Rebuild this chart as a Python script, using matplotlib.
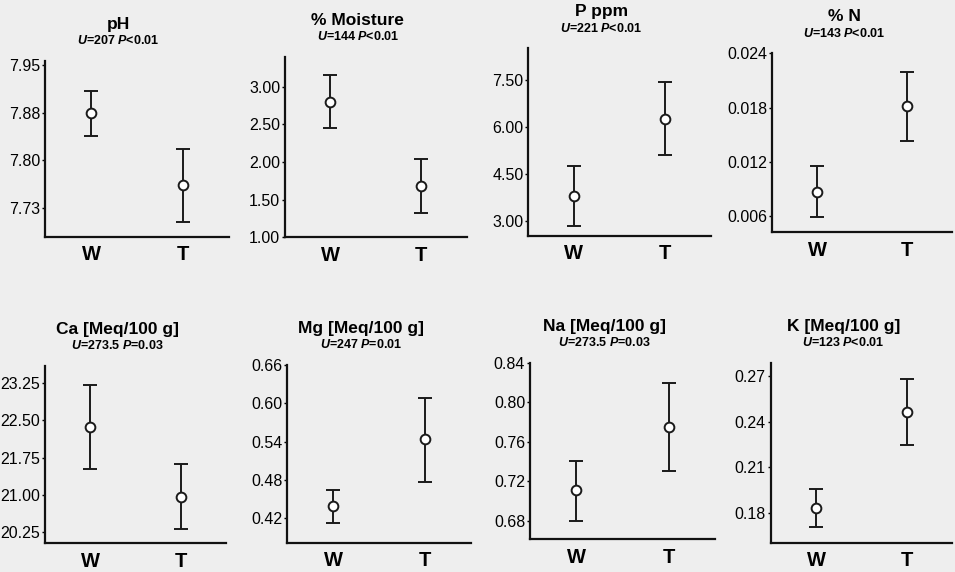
import numpy as np
import matplotlib
matplotlib.use('Agg')
import matplotlib.pyplot as plt

plt.rcParams['font.family'] = 'Liberation Sans'
plt.rcParams['mathtext.fontset'] = 'custom'
plt.rcParams['mathtext.it'] = 'Liberation Sans:italic:bold'
plt.rcParams['mathtext.rm'] = 'Liberation Sans:bold'

# datos
groups = ['W', 'T']
titles = ['pH', '% Moisture', 'P ppm', '% N',
          'Ca [Meq/100 g]', 'Mg [Meq/100 g]', 'Na [Meq/100 g]', 'K [Meq/100 g]']
u_values = ['207', '144', '221', '143', '273.5', '247', '273.5', '123']
p_values = ['<0.01', '<0.01', '<0.01', '<0.01', '=0.03', '=0.01', '=0.03', '<0.01']

w_mean = [7.874, 2.80, 3.80, 0.00869, 22.364, 0.4393, 0.7113, 0.1833]
w_low = [7.839, 2.456, 2.85, 0.00589, 21.52, 0.4126, 0.680, 0.171]
w_high = [7.909, 3.155, 4.755, 0.01157, 23.216, 0.4643, 0.7409, 0.1959]

t_mean = [7.761, 1.685, 6.255, 0.01818, 20.97, 0.544, 0.7753, 0.2466]
t_low = [7.703, 1.327, 5.10, 0.01434, 20.32, 0.4773, 0.7305, 0.2246]
t_high = [7.818, 2.044, 7.43, 0.02198, 21.625, 0.6078, 0.819, 0.2678]

yticks = [[7.725, 7.80, 7.875, 7.95],
          [1.0, 1.5, 2.0, 2.5, 3.0],
          [3.0, 4.5, 6.0, 7.5],
          [0.006, 0.012, 0.018, 0.024],
          [20.25, 21.0, 21.75, 22.5, 23.25],
          [0.42, 0.48, 0.54, 0.60, 0.66],
          [0.68, 0.72, 0.76, 0.80, 0.84],
          [0.18, 0.21, 0.24, 0.27]]
ytick_labels = [['7.73', '7.80', '7.88', '7.95'],
                ['1.00', '1.50', '2.00', '2.50', '3.00'],
                ['3.00', '4.50', '6.00', '7.50'],
                ['0.006', '0.012', '0.018', '0.024'],
                ['20.25', '21.00', '21.75', '22.50', '23.25'],
                ['0.42', '0.48', '0.54', '0.60', '0.66'],
                ['0.68', '0.72', '0.76', '0.80', '0.84'],
                ['0.18', '0.21', '0.24', '0.27']]
ylims = [(7.679, 7.957), (1.00, 3.40), (2.53, 8.51), (0.0042, 0.0240),
         (20.03, 23.60), (0.382, 0.660), (0.6615, 0.840), (0.1607, 0.2787)]

# cajas de los ejes en pixeles (izq, der, arriba, abajo)
boxes = [(45, 229, 61, 236.7), (285, 466.7, 56.7, 237.3),
         (528.3, 710.7, 48.3, 235.7), (772.3, 952.3, 53.3, 232.3),
         (45, 226, 365.7, 543.3), (287.3, 470.7, 365, 542.7),
         (530, 715, 362.7, 539.3), (770.7, 952.3, 362.7, 542.7)]

W, H = 955, 572
bg = '#eeeeee'
fig = plt.figure(figsize=(W / 100, H / 100), dpi=100, facecolor=bg)

for i in range(8):
    L, R, T, B = boxes[i]
    ax = fig.add_axes([L / W, 1 - B / H, (R - L) / W, (B - T) / H])
    ax.set_facecolor(bg)

    x = np.arange(len(groups))
    means = np.array([w_mean[i], t_mean[i]])
    lows = np.array([w_low[i], t_low[i]])
    highs = np.array([w_high[i], t_high[i]])
    ax.errorbar(x, means, yerr=[means - lows, highs - means], fmt='o',
                color='#1a1a1a', ecolor='#1a1a1a', elinewidth=1.4, capsize=5,
                capthick=1.4, markersize=7, markerfacecolor='white',
                markeredgecolor='#1a1a1a', markeredgewidth=1.4, zorder=3)

    ax.set_xlim(-0.5, 1.5)
    ax.set_ylim(*ylims[i])
    ax.set_xticks(x)
    ax.set_xticklabels(groups, fontsize=14.5, fontweight='bold')
    ax.set_yticks(yticks[i])
    ax.set_yticklabels(ytick_labels[i], fontsize=11.5)
    ax.tick_params(axis='x', length=0, pad=6)
    ax.tick_params(axis='y', length=2.5, width=1, pad=1, direction='out')

    for s in ['top', 'right']:
        ax.spines[s].set_visible(False)
    for s in ['left', 'bottom']:
        ax.spines[s].set_linewidth(1.6)
        ax.spines[s].set_color('#111111')

    ax.annotate(titles[i], xy=(0.4, 1), xycoords='axes fraction',
                xytext=(0, 23), textcoords='offset points', ha='center',
                va='baseline', fontsize=12.5, fontweight='bold')
    ax.annotate(f'$U$={u_values[i]} $P${p_values[i]}', xy=(0.4, 1),
                xycoords='axes fraction', xytext=(0, 12),
                textcoords='offset points', ha='center', va='baseline',
                fontsize=9, fontweight='bold')

fig.savefig('out.png', dpi=100, facecolor=bg)
